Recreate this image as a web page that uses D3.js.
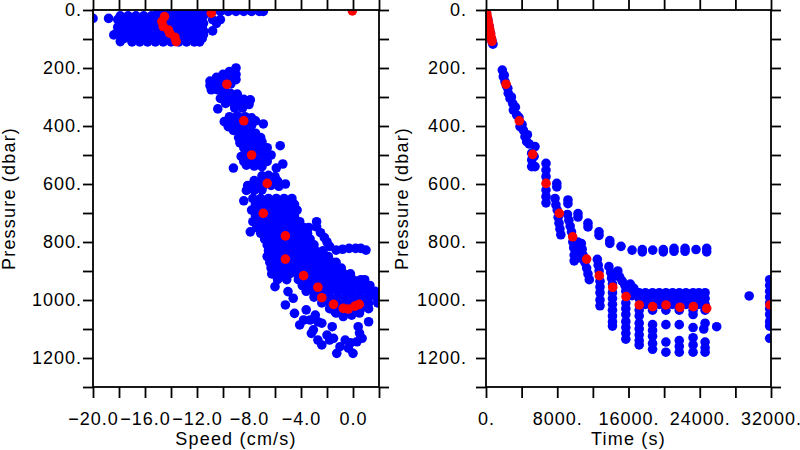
<!DOCTYPE html>
<html><head><meta charset="utf-8">
<script src="https://cdn.jsdelivr.net/npm/d3@7"></script>
<style>
body{margin:0;background:#fff;}
svg text{font-family:"Liberation Sans",Arial,Helvetica,sans-serif;}
</style></head><body>
<svg id="chart" width="800" height="450"></svg>
<script>
// ---------- axis ticks / labels ----------
const speedTicks = [-20,-18,-16,-14,-12,-10,-8,-6,-4,-2,0,2];
const speedLabels = [-20,-16,-12,-8,-4,0];
const timeTicks = [0,4000,8000,12000,16000,20000,24000,28000,32000];
const timeLabels = [0,8000,16000,24000,32000];
const pressureTicks = [0,100,200,300,400,500,600,700,800,900,1000,1100,1200,1300];
const pressureLabels = [0,200,400,600,800,1000,1200];

// ---------- left panel: speed vs pressure (blue), rows [pressure, speeds] ----------
const speedRows = [
 [5, [-15.0,-14.4,-13.8,-13.2,-12.6,-12.0,-11.4,-10.8,-10.2,-9.6,-9.0,-8.4,-7.8,-7.2,-6.9]],
 [20, [-17.9,-17.3,-16.7,-16.1,-15.5,-14.9,-14.3,-13.7,-13.1,-12.5,-11.9,-11.5]],
 [33, [-18.1,-17.6,-17.0,-16.4,-15.8,-15.2,-14.6,-14.0,-13.4,-12.8,-12.2,-11.8,-10.8,-10.2]],
 [46, [-17.9,-17.3,-16.7,-16.1,-15.5,-14.9,-14.3,-13.7,-13.1,-12.5,-11.9,-11.5,-10.5]],
 [59, [-18.1,-17.6,-17.0,-16.4,-15.8,-15.2,-14.6,-14.0,-13.4,-12.8,-12.2,-11.6]],
 [72, [-17.9,-17.3,-16.7,-16.1,-15.5,-14.9,-14.3,-13.7,-13.1,-12.5,-11.9,-11.5,-10.8]],
 [85, [-17.9,-17.4,-16.8,-16.2,-15.6,-15.0,-14.4,-13.8,-13.2,-12.6,-12.0,-11.5]],
 [98, [-17.6,-17.0,-16.4,-15.8,-15.2,-14.6,-14.0,-13.4,-12.8,-12.2,-11.6]],
 [110, [-17.0,-16.4,-15.8,-15.2,-14.6,-14.0,-13.4,-12.8,-12.2,-11.8]],
 [650, [-7.7,-7.1,-6.5,-5.9,-5.3,-4.7]],
 [670, [-7.5,-6.9,-6.3,-5.7,-5.1,-4.5]],
 [690, [-7.8,-7.2,-6.6,-6.0,-5.4,-4.8,-4.3]],
 [710, [-7.5,-6.9,-6.3,-5.7,-5.1,-4.5]],
 [730, [-7.7,-7.1,-6.5,-5.9,-5.3,-4.7,-4.1]],
 [750, [-7.4,-6.8,-6.2,-5.6,-5.0,-4.4,-3.8,-3.4]],
 [770, [-7.1,-6.5,-5.9,-5.3,-4.7,-4.1,-3.5]],
 [790, [-6.8,-6.2,-5.6,-5.0,-4.4,-3.8,-3.3]],
 [810, [-6.6,-6.0,-5.4,-4.8,-4.2,-3.6,-3.0]],
 [830, [-6.5,-5.9,-5.3,-4.7,-4.1,-3.5,-2.9,-2.3]],
 [850, [-6.6,-6.0,-5.4,-4.8,-4.2,-3.6,-3.0,-2.4,-1.9]],
 [870, [-6.4,-5.8,-5.2,-4.6,-4.0,-3.4,-2.8,-2.2,-1.6,-1.3]],
 [890, [-6.3,-5.7,-5.1,-4.5,-3.9,-3.3,-2.7,-2.1,-1.5,-0.9]],
 [910, [-6.1,-5.5,-4.9,-4.3,-3.7,-3.1,-2.5,-1.9,-1.3,-0.7,-0.2]],
 [930, [-5.8,-5.1,-4.2,-3.6,-3.0,-2.4,-1.8,-1.2,-0.6,0.0,0.6,0.9]],
 [950, [-3.9,-3.3,-2.7,-2.1,-1.5,-0.9,-0.3,0.3,0.9,1.3]],
 [970, [-3.6,-3.0,-2.4,-1.8,-1.2,-0.6,0.0,0.6,1.2,1.7]],
 [990, [-3.0,-2.4,-1.8,-1.2,-0.6,0.0,0.6,1.2,1.8]],
 [1010, [-2.4,-1.8,-1.2,-0.6,0.0,0.6,1.2,1.9]],
 [1030, [-1.8,-1.2,-0.6,0.0,0.6,1.2]],
 [1045, [-1.3,-0.7,-0.1,0.5]]
];
// single blue points [speed, pressure]
const speedExtra = [
 [-20.0,29],[-18.8,29],[-18.2,80],[-17.9,109],[-18.4,86],
 [-9.0,200],[-9.5,212],[-10.0,222],[-9.0,222],[-10.5,232],[-9.5,232],[-11.0,245],[-10.5,245],[-10.0,245],[-9.5,245],[-9.0,240],[-11.0,260],[-10.5,260],[-10.0,262],[-9.4,255],[-10.9,275],[-10.4,275],[-9.9,272],
 [-10.0,288],[-9.4,288],[-8.9,290],[-10.2,305],[-9.6,305],[-9.0,305],[-8.4,308],[-7.9,310],[-9.8,322],[-9.2,322],[-8.6,324],[-8.0,326],[-9.1,338],[-8.5,338],[-10.4,341],
 [-9.5,368],[-8.9,365],[-8.3,368],[-7.8,372],[-9.9,385],[-9.3,385],[-8.7,385],[-8.1,385],[-7.5,382],[-9.6,402],[-9.0,402],[-8.4,402],[-7.8,398],[-9.2,415],[-8.6,415],[-6.9,393],
 [-8.5,425],[-8.0,425],[-7.5,425],[-8.8,440],[-8.2,440],[-7.6,440],[-7.1,440],[-8.7,458],[-8.1,458],[-7.5,458],[-7.0,455],[-8.4,475],[-7.8,475],[-7.3,475],[-5.6,468],[-6.6,475],
 [-8.2,488],[-7.6,488],[-7.0,490],[-8.6,505],[-8.0,505],[-7.4,505],[-6.8,505],[-6.3,500],[-8.4,522],[-7.8,522],[-7.2,522],[-6.6,522],[-9.2,545],[-8.2,535],[-7.6,538],[-7.0,540],[-5.4,531],[-5.9,545],
 [-7.0,572],[-6.5,570],[-6.0,575],[-7.6,588],[-7.0,588],[-6.4,588],[-5.8,590],[-5.2,600],[-8.1,605],[-7.5,605],[-6.9,605],[-6.3,605],[-5.7,608],[-8.2,622],[-7.6,622],[-7.0,620],[-8.4,658],
 [-7.9,765],[-2.8,730],[-2.8,748],[-2.5,768],[-2.2,785],[-2.0,800],[-1.8,815],[-1.3,828],[-0.8,825],[-0.3,822],[0.2,822],[0.6,822],[1.0,828],
 [-6.25,910],[-6.0,954],[-5.2,1017],[-5.0,971],[-4.6,994],[-4.5,1046],[-4.1,1086],[-3.6,1034],[-3.3,1069],[-3.05,1103],[-2.7,1138],[-2.4,1080],[-2.0,1121],[-1.6,1092],[-1.25,1184],[-1.0,1161],[-0.6,1138],[-0.35,1166],[0.0,1184],[0.3,1144],[0.7,1132],[0.4,1092],[1.2,1075],[-1.8,1138],[-2.4,1155],[-1.4,1040],[-0.75,1057],[-0.1,1052],[-2.7,1075],[-3.8,1069],[-2.9,1052],[-3.2,1115],[-0.2,1148],[0.5,1114],[-1.5,1132]
];
// red points [speed, pressure]
const speedRed = [
 [-0.05,3],[-10.9,11],[-14.5,23],[-14.7,40],[-14.6,57],[-14.2,69],[-14.1,80],[-13.7,94],[-13.6,109],
 [-9.7,256],[-8.4,382],[-7.8,500],[-6.6,598],[-6.9,701],[-5.2,779],[-5.2,859],[-3.8,916],[-2.7,956],[-2.4,992],
 [-1.5,1015],[-0.75,1029],[-0.36,1031],[0.15,1021],[0.48,1015]
];

// ---------- right panel: time vs pressure ----------
const timeBlue = [
 [60,10],[200,32],[350,56],[500,80],[640,102],[720,112],[780,118],
 [1830,207],[1946,230],[2134,247],[2300,262],[2500,287],[2695,305],[2995,322],[3070,345],[3443,362],[3818,402],[4190,414],[4380,437],[4570,454],[5503,471],[5130,494],[5130,517],[5130,540],[5503,540],[5400,505],
 [2050,225],[2450,270],[2850,300],[3300,335],[3700,370],[4050,395],[4650,430],[4850,462],
 [6738,529],[6738,552],[6738,575],[6738,621],[6738,644],[6738,665],
 [7750,650],[7850,672],[8000,690],[8100,715],[8200,735],[8300,755],[8400,775],
 [9150,705],[9300,725],[9450,745],[9600,765],[9750,800],[9850,820],[9900,845],[9900,865],[10300,800],[10500,830],[10400,855],
 [10700,805],[10800,825],[10900,845],[11100,870],[11300,890],[11450,910],[11600,930],
 [12500,860],[12600,880],[12700,900],[12800,935],[12800,955],[12800,975],[12800,1000],[12800,1020],
 [13800,885],[14000,905],[14100,925],[14200,945],[14200,975],[14200,995],[14200,1015],[14200,1035],[14200,1055],[14200,1075],[14200,1090],[14800,900],
 [15000,920],[15300,935],[15600,950],[15700,970],[15700,1010],[15700,1030],[15700,1050],[15700,1075],[15700,1095],[15700,1115],[15700,1135],[16200,945],[16600,960],[16900,975],[16400,985],
 [17200,975],[17200,995],[17200,1035],[17200,1055],[17200,1080],[17200,1100],[17200,1120],[17200,1140],[17200,1155],
 [18700,975],[18700,995],[18700,1015],[18700,1035],[18700,1085],[18700,1105],[18700,1125],[18700,1150],[18700,1170],
 [20200,975],[20200,995],[20200,1015],[20200,1035],[20200,1085],[20200,1145],[20200,1180],
 [21700,975],[21700,995],[21700,1015],[21700,1035],[21700,1085],[21700,1140],[21700,1160],[21700,1180],
 [23250,975],[23250,995],[23250,1015],[23250,1035],[23250,1050],[23250,1095],[23250,1130],[23250,1155],[23250,1180],
 [24600,975],[24600,995],[24600,1015],[24600,1035],[24600,1080],[24450,1100],[24600,1145],[24600,1165],[24600,1180],
 [17900,975],[17900,995],[17900,1015],[19450,975],[19450,995],[19450,1015],[20950,975],[20950,995],[20950,1015],[22450,975],[22450,995],[22450,1015],[23900,975],[23900,995],[23900,1015],
 [25900,1092],[29550,986],
 [31850,930],[31850,950],[31850,970],[31850,990],[31850,1010],[31850,1030],[31850,1050],[31850,1075],[31850,1090],[31850,1132],
 [7950,598],[7950,610],[9200,655],[9200,668],[10330,702],[10330,714],[11450,735],[11450,748],[12690,765],[12690,777],[13900,795],[13900,805],[15160,815],[16400,828],[17550,826],[17550,834],[18720,828],[19910,826],[19910,834],[21110,822],[21110,832],[22350,822],[22350,832],[23580,826],[24780,822],[24780,834]
];
const timeRed = [
 [13,2],[88,14],[164,26],[252,40],[340,54],[428,68],[517,82],[605,96],[680,108],
 [2245,256],[3740,382],[5240,498],[6740,598],[8230,701],[9730,782],[11300,859],[12720,916],[14230,956],[15720,988],
 [17210,1017],[18710,1023],[20210,1017],[21780,1025],[23280,1023],[24780,1029],[31890,1017]
];

// ---------- drawing ----------
const svg = d3.select("#chart");
const R = 4.8;
const FS = 18;
const yTop = 10, yBottom = 387;
const y = d3.scaleLinear().domain([0,1300]).range([yTop,yBottom]);
const xL = d3.scaleLinear().domain([-20,2]).range([93,379]);
const xR = d3.scaleLinear().domain([0,32000]).range([486,771]);

const fmtSpeed = v => (v < 0 ? "\u2212" : "") + Math.abs(v).toFixed(1);
const fmtInt = v => v + ".";

function styleAxis(g){
  g.select(".domain").remove();
  g.selectAll(".tick line").attr("stroke","#000").attr("stroke-width",1.8);
  g.selectAll(".tick text").attr("fill","#000").attr("font-size",FS).style("letter-spacing","1px");
}

function panel(id, x, ticks, labels, fmt, yLabelEnd, xTitle, yTitleX, blueData, redData){
  const x0 = x.range()[0], x1 = x.range()[1];
  svg.append("clipPath").attr("id", id).append("rect")
    .attr("x", x0).attr("y", yTop).attr("width", x1-x0).attr("height", yBottom-yTop);
  const pts = svg.append("g").attr("clip-path", `url(#${id})`);
  pts.selectAll("circle.b").data(blueData).join("circle").attr("class","b")
    .attr("cx", d => x(d[0])).attr("cy", d => y(d[1])).attr("r", R).attr("fill", "#0000ff");
  pts.selectAll("circle.r").data(redData).join("circle").attr("class","r")
    .attr("cx", d => x(d[0])).attr("cy", d => y(d[1])).attr("r", R).attr("fill", "#ff0000");

  const lab = new Set(labels);
  svg.append("g").attr("transform", `translate(0,${yBottom})`)
    .call(d3.axisBottom(x).tickValues(ticks).tickSize(11).tickPadding(14)
      .tickFormat(d => lab.has(d) ? fmt(d) : ""))
    .call(styleAxis);
  svg.append("g").attr("transform", `translate(0,${yTop})`)
    .call(d3.axisTop(x).tickValues(ticks).tickSize(10).tickFormat(""))
    .call(styleAxis);
  const plab = new Set(pressureLabels);
  svg.append("g").attr("transform", `translate(${x0},0)`)
    .call(d3.axisLeft(y).tickValues(pressureTicks).tickSize(10).tickPadding(x0 - 10 - yLabelEnd)
      .tickFormat(d => plab.has(d) ? fmtInt(d) : ""))
    .call(styleAxis);
  svg.append("g").attr("transform", `translate(${x1},0)`)
    .call(d3.axisRight(y).tickValues(pressureTicks).tickSize(10).tickFormat(""))
    .call(styleAxis);
  svg.append("rect").attr("x", x0).attr("y", yTop).attr("width", x1-x0).attr("height", yBottom-yTop)
    .attr("fill","none").attr("stroke","#000").attr("stroke-width",1.8);

  svg.append("text").attr("x", (x0+x1)/2).attr("y", 445).attr("text-anchor","middle")
    .attr("font-size",FS).style("letter-spacing","1.2px").attr("fill","#000").text(xTitle);
  svg.append("text").attr("transform", `translate(${yTitleX},${(yTop+yBottom)/2}) rotate(-90)`)
    .attr("text-anchor","middle").attr("font-size",FS).style("letter-spacing","1.2px")
    .attr("fill","#000").text("Pressure (dbar)");
}

const leftBlue = speedRows.flatMap(([p, ss]) => ss.map(s => [s, p])).concat(speedExtra);
panel("clipL", xL, speedTicks, speedLabels, fmtSpeed, 82, "Speed (cm/s)", 15, leftBlue, speedRed);
panel("clipR", xR, timeTicks, timeLabels, fmtInt, 467, "Time (s)", 408, timeBlue, timeRed);
</script>
</body></html>
